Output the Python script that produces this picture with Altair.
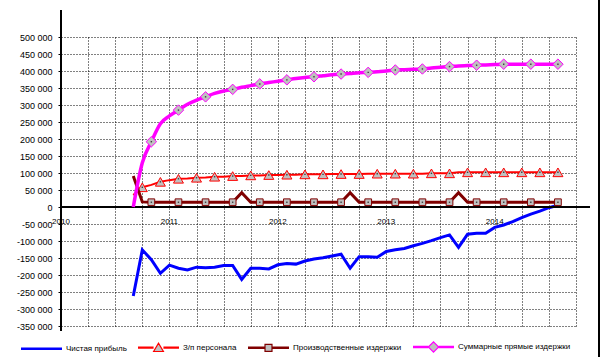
import altair as alt
import pandas as pd

# ---------------- data ----------------
months = pd.date_range("2010-09-01", periods=48, freq="MS")

series_names = ["Чистая прибыль", "З/п персонала",
                "Производственные издержки", "Суммарные прямые издержки"]
series_colors = ["#0000FF", "#FF0000", "#800000", "#FF00FF"]

profit = [-262000, -126000, -155000, -195000, -171000, -180000, -185000, -177000,
          -179000, -177000, -172000, -172000, -213000, -180000, -180000, -182000,
          -170000, -166000, -168000, -159000, -153000, -149000, -144000, -139000,
          -180000, -146000, -146000, -148000, -131000, -126000, -122000, -114000,
          -107000, -99000, -90000, -82000, -119000, -80000, -77000, -77000,
          -60000, -53000, -43000, -31000, -21000, -12000, -2000, 5000]

salary = [35000, 58000, 65000, 74000, 79000, 83000, 84000, 86000,
          87000, 89000, 89000, 91000, 91000, 93000, 93000, 94000,
          94000, 95000, 95000, 96000, 96000, 96000, 97000, 97000,
          97000, 97000, 98000, 98000, 98000, 98000, 98000, 98000,
          98000, 99000, 99000, 99000, 102000, 102000, 102000, 102000,
          102000, 102000, 102000, 102000, 102000, 102000, 102000, 102000]

production = [91000, 15000, 14000, 14000, 14000, 14000, 14000, 14000,
              14000, 14000, 14000, 14000, 42000, 14000, 14000, 14000,
              14000, 14000, 14000, 14000, 14000, 14000, 14000, 14000,
              42000, 14000, 14000, 14000, 14000, 14000, 14000, 14000,
              14000, 14000, 14000, 14000, 42000, 14000, 14000, 14000,
              14000, 14000, 14000, 14000, 14000, 14000, 14000, 14000]

total_direct = [0, 130000, 192000, 245000, 268000, 285000, 302000, 314000,
                324000, 334000, 341000, 346000, 352000, 357000, 362000, 366000,
                370000, 374000, 378000, 381000, 383000, 386000, 389000, 391000,
                393000, 395000, 396000, 398000, 400000, 403000, 404000, 405000,
                406000, 409000, 411000, 413000, 415000, 416000, 417000, 418000,
                419000, 420000, 420000, 420000, 420000, 420000, 420000, 420000]

years = [2010, 2011, 2012, 2013, 2014]
y_ticks = list(range(-350000, 500001, 50000))
x_grid = [2010 + q / 4 for q in range(1, 20)]

# ---------------- helpers ----------------
t = [d.year + (d.month - 1) / 12 for d in months]


def frame(vals):
    return pd.DataFrame({"t": t, "v": vals, "i": list(range(len(vals)))})


one_row = pd.DataFrame({"k": [0]})

xscale = alt.Scale(domain=[2010, 2014.75], nice=False, zero=False)
yscale = alt.Scale(domain=[-350000, 500000], nice=False, zero=False)
FONT = "Liberation Sans"
GREY = "#C0C0C0"

x_axis = alt.Axis(values=x_grid, grid=True, gridColor="black", gridDash=[1, 2],
                  gridWidth=1, gridOpacity=1, labels=False, ticks=False,
                  domain=False, title=None)
y_axis = alt.Axis(values=y_ticks, grid=True, gridColor="black", gridDash=[1, 2],
                  gridWidth=1, gridOpacity=1, domain=False, title=None,
                  labelExpr="(datum.value < 0 ? '-' : '') + replace(format(abs(datum.value), ','), ',', ' ')",
                  labelFont=FONT, labelFontSize=9, labelColor="black",
                  tickColor="black", tickSize=3, tickWidth=1, labelPadding=6)

X = alt.X("t:Q", scale=xscale, axis=x_axis)
Y = alt.Y("v:Q", scale=yscale, axis=y_axis)


def line(vals, color, width, interp="linear"):
    return alt.Chart(frame(vals)).mark_line(
        color=color, strokeWidth=width, interpolate=interp).encode(x=X, y=Y)


def markers(vals, shape, size, color, cond):
    base = alt.Chart(frame(vals)).transform_filter(cond)
    m = base.mark_point(shape=shape, size=size, filled=True, fill=GREY,
                        stroke=color, strokeWidth=1, opacity=1).encode(x=X, y=Y)
    d = base.mark_square(size=2, color="#404040", opacity=1).encode(x=X, y=Y)
    return alt.layer(m, d)


# axis lines and border
y_axis_line = alt.Chart(one_row).mark_rule(color="black", strokeWidth=2).encode(
    x=alt.value(0), y=alt.value(-27), y2=alt.value(294))
x_axis_line = alt.Chart(one_row).mark_rule(color="black", strokeWidth=2).encode(
    y=alt.datum(0, scale=yscale, axis=y_axis), x=alt.value(0), x2=alt.value(529))
right_border = alt.Chart(one_row).mark_rule(color="black", strokeWidth=2).encode(
    x=alt.value(538), y=alt.value(-37), y2=alt.value(320))

year_text = alt.Chart(pd.DataFrame({"year": years})).mark_text(
    font=FONT, fontSize=8, color="black", dy=15, baseline="middle", align="center"
).encode(x=alt.X("year:Q", scale=xscale, axis=x_axis),
         y=alt.datum(0, scale=yscale, axis=y_axis), text=alt.Text("year:N"))

# legend symbols: line with marker in the middle (unit = half symbol width)
L = "M-1,-0.03H{a}M-1,0.03H{a}M{b},-0.03H1M{b},0.03H1"
legend_paths = [
    "M-1,-0.03H1M-1,0.03H1",
    L.format(a=-0.24, b=0.24) + "M-0.24,0.19L0,-0.22L0.24,0.19Z",
    L.format(a=-0.17, b=0.17) + "M-0.17,-0.17H0.17V0.17H-0.17Z",
    L.format(a=-0.25, b=0.25) + "M-0.25,0L0,-0.25L0.25,0L0,0.25Z",
]
leg = alt.Legend(orient="none", legendX=-41, legendY=288, direction="horizontal",
                 title=None, labelFont=FONT, labelFontSize=8, labelColor="black",
                 symbolSize=1681, labelOffset=3, columnPadding=8, padding=0,
                 symbolStrokeWidth=1.2, symbolFillColor=GREY, symbolOffset=0)
legend_layer = alt.Chart(pd.DataFrame({"series": series_names})).mark_point(
    filled=True, fill=GREY, strokeWidth=1.2, size=1681, opacity=1
).encode(
    x=alt.value(-500), y=alt.value(-500),
    stroke=alt.Stroke("series:N", scale=alt.Scale(domain=series_names, range=series_colors), legend=leg),
    shape=alt.Shape("series:N", scale=alt.Scale(domain=series_names, range=legend_paths), legend=leg),
)

chart = alt.layer(
    line(profit, "#0000FF", 3),
    y_axis_line,
    x_axis_line,
    right_border,
    year_text,
    line(salary, "#FF0000", 2),
    markers(salary, "triangle-up", 100, "#FF0000", "datum.i % 2 == 1"),
    line(production, "#800000", 3),
    markers(production, "square", 45, "#800000", "datum.i % 3 == 2"),
    line(total_direct, "#FF00FF", 3.5, interp="monotone"),
    markers(total_direct, "diamond", 110, "#FF00FF", "datum.i % 3 == 2"),
    legend_layer,
).properties(
    width=515, height=289, autosize="none",
    padding={"left": 61, "top": 37, "right": 26, "bottom": 31},
    background="white",
).configure_view(stroke=None)

chart.save("out.html", embed_options={"renderer": "svg", "actions": False})
